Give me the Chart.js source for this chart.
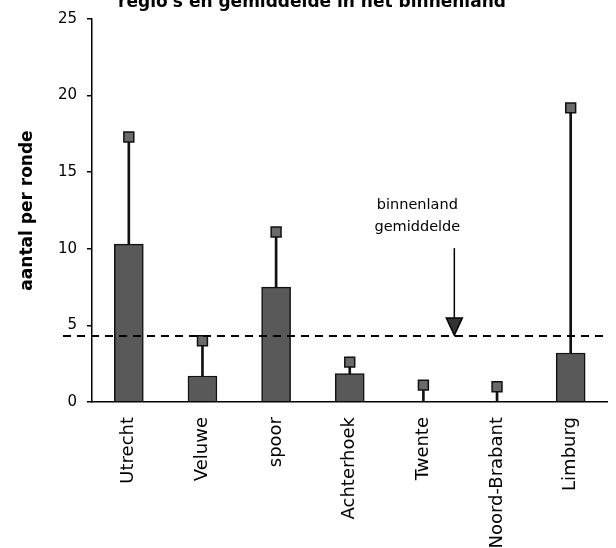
<!DOCTYPE html>
<html>
<head>
<meta charset="utf-8">
<script src="https://cdn.jsdelivr.net/npm/chart.js@4"></script>
<style>
  html, body { margin: 0; padding: 0; background: #fff; }
  #wrap { width: 616px; height: 548px; position: relative; }
</style>
</head>
<body>
<div id="wrap"><canvas id="barChart"></canvas></div>
<script>
// data
const regions = ['Utrecht', 'Veluwe', 'spoor', 'Achterhoek', 'Twente', 'Noord-Brabant', 'Limburg'];
const means = [10.3, 1.7, 7.5, 1.85, 0, 0, 3.2];
const upper = [17.3, 4.0, 11.1, 2.6, 1.1, 1.0, 19.2];
const nationalAvg = 4.3;
const yTicks = [0, 5, 10, 15, 20, 25];

const titleText = "regio's en gemiddelde in het binnenland";
const avgLabel = ['binnenland', 'gemiddelde'];

const FONT = '"DejaVu Sans", "Liberation Sans", Arial, sans-serif';

// dashed average line, arrow + label, and the cut-off title
const avgPlugin = {
    id: 'avgLine',
    afterDatasetsDraw(chart) {
        const ctx = chart.ctx;
        const x = chart.scales.x, y = chart.scales.y;
        const yAvg = y.getPixelForValue(nationalAvg);

        ctx.save();
        ctx.strokeStyle = '#000';
        ctx.lineWidth = 2;
        ctx.setLineDash([8, 6]);
        ctx.beginPath();
        ctx.moveTo(chart.chartArea.left - 29, yAvg);
        ctx.lineTo(chart.chartArea.right, yAvg);
        ctx.stroke();
        ctx.setLineDash([]);

        // arrow pointing down on the line
        const ax = x.getPixelForValue(4.42);
        ctx.lineWidth = 1.5;
        ctx.beginPath();
        ctx.moveTo(ax, yAvg - 88);
        ctx.lineTo(ax, yAvg - 14);
        ctx.stroke();
        ctx.fillStyle = '#333';
        ctx.beginPath();
        ctx.moveTo(ax - 8, yAvg - 18);
        ctx.lineTo(ax + 8, yAvg - 18);
        ctx.lineTo(ax, yAvg - 1);
        ctx.closePath();
        ctx.fill();
        ctx.stroke();

        ctx.fillStyle = '#000';
        ctx.font = '14.5px ' + FONT;
        ctx.textAlign = 'center';
        ctx.textBaseline = 'middle';
        ctx.fillText(avgLabel[0], ax - 37, yAvg - 131);
        ctx.fillText(avgLabel[1], ax - 37, yAvg - 109);

        ctx.font = 'bold 17px ' + FONT;
        ctx.textBaseline = 'alphabetic';
        ctx.fillText(titleText, 312, 7);
        ctx.restore();
    }
};

const barChart = new Chart('barChart', {
    data: {
        labels: regions,
        datasets: [{
            type: 'line',
            data: upper,
            showLine: false,
            pointStyle: 'rect',
            pointRadius: 7,
            pointBackgroundColor: '#6a6a6a',
            pointBorderColor: '#111',
            pointBorderWidth: 1.5,
            order: 0
        }, {
            type: 'bar',
            data: means,
            backgroundColor: '#595959',
            borderColor: '#111',
            borderWidth: 1.5,
            barThickness: 29,
            grouped: false,
            order: 1
        }, {
            type: 'bar',
            data: means.map((m, i) => [m, upper[i]]),
            backgroundColor: '#111',
            borderWidth: 0,
            barThickness: 2,
            grouped: false,
            order: 2
        }]
    },
    options: {
        responsive: true,
        maintainAspectRatio: false,
        animation: false,
        layout: {
            padding: { top: 14, right: 8, left: 0, bottom: 0 }
        },
        scales: {
            x: {
                grid: { drawOnChartArea: false, drawTicks: false },
                border: { display: true, color: '#000', width: 1.5 },
                ticks: {
                    color: '#000',
                    font: { family: FONT, size: 18 },
                    minRotation: 90,
                    maxRotation: 90,
                    padding: 15,
                    autoSkip: false
                },
                afterFit(scale) { scale.height = 146; }
            },
            y: {
                min: 0,
                max: 25,
                afterBuildTicks(scale) { scale.ticks = yTicks.map(v => ({ value: v })); },
                grid: { drawOnChartArea: false, drawTicks: true, tickLength: 5, color: '#000', lineWidth: 1.5 },
                border: { display: true, color: '#000', width: 1.5 },
                ticks: {
                    color: '#000',
                    font: { family: FONT, size: 15 },
                    padding: 10
                },
                title: {
                    display: true,
                    text: 'aantal per ronde',
                    color: '#000',
                    font: { family: FONT, size: 17, weight: 'bold' },
                    padding: { top: 17, bottom: 0 }
                },
                afterFit(scale) { scale.width = 92; }
            }
        },
        plugins: {
            legend: { display: false },
            tooltip: { enabled: false }
        }
    },
    plugins: [avgPlugin]
});
</script>
</body>
</html>
